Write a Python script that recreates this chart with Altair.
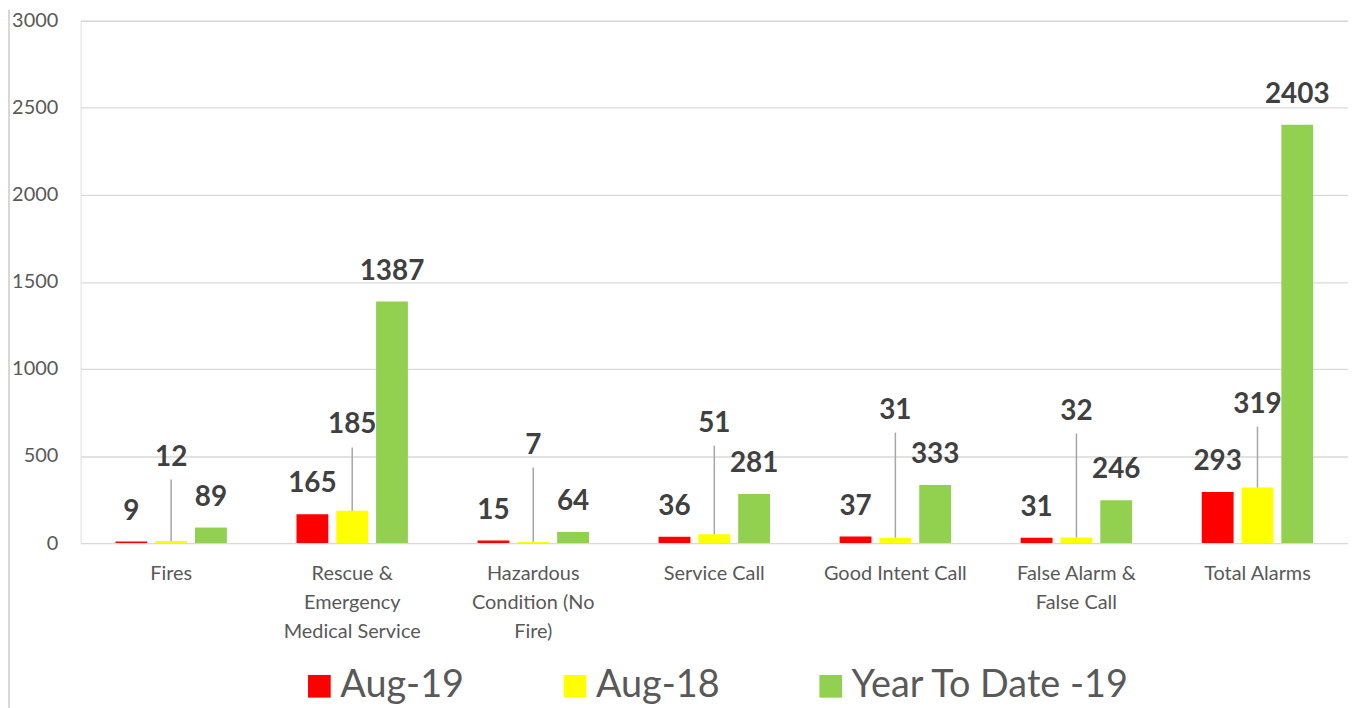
import altair as alt
import pandas as pd

categories = [
    "Fires",
    "Rescue &\nEmergency\nMedical Service",
    "Hazardous\nCondition (No\nFire)",
    "Service Call",
    "Good Intent Call",
    "False Alarm &\nFalse Call",
    "Total Alarms",
]
series = ["Aug-19", "Aug-18", "Year To Date -19"]
aug19 = [9, 165, 15, 36, 37, 31, 293]
aug18 = [12, 185, 7, 51, 31, 32, 319]
ytd19 = [89, 1387, 64, 281, 333, 246, 2403]
# manually placed label anchors (data units) for the Aug-18 series
aug18_label_at = [490, 675, 560, 685, 760, 755, 795]
colors = ["#FF0000", "#FFFF00", "#92D050"]
y_ticks = [0, 500, 1000, 1500, 2000, 2500, 3000]

rows = []
for i, c in enumerate(categories):
    for s, vals in zip(series, [aug19, aug18, ytd19]):
        rows.append({"category": c, "series": s, "value": vals[i],
                     "label_at": aug18_label_at[i] if s == "Aug-18" else None})
df = pd.DataFrame(rows)

FONT = "Lato"

x_enc = alt.X(
    "category:N", sort=categories, title=None,
    scale=alt.Scale(paddingInner=0.3846, paddingOuter=0.1923),
    axis=alt.Axis(labelAngle=0, ticks=False, domain=False, labelFont=FONT,
                  labelFontSize=20, labelColor="#595959", labelPadding=21,
                  labelLineHeight=29, labelLimit=300,
                  labelExpr="split(datum.label, '\\n')"),
)
xoff = alt.XOffset("series:N", sort=series,
                   scale=alt.Scale(paddingInner=0.2, paddingOuter=0))
y_scale = alt.Scale(domain=[0, 3000], nice=False)

base = alt.Chart(df)

bars = base.mark_bar().encode(
    x=x_enc,
    xOffset=xoff,
    y=alt.Y("value:Q", scale=y_scale, title=None,
            axis=alt.Axis(values=y_ticks, ticks=False, domain=False, format="d",
                          labelFont=FONT, labelFontSize=20, labelColor="#595959",
                          labelPadding=23, gridColor="#d9d9d9", gridWidth=1.3)),
    color=alt.Color("series:N", sort=series,
                    scale=alt.Scale(domain=series, range=colors),
                    legend=alt.Legend(orient="none", legendX=221, legendY=650,
                                      direction="horizontal", title=None,
                                      symbolType="square", symbolSize=520,
                                      symbolStrokeWidth=0, labelFont=FONT,
                                      labelFontSize=38, labelColor="#595959",
                                      labelOffset=2, columnPadding=92,
                                      labelLimit=400)),
)

labels = base.transform_filter("datum.series != 'Aug-18'").mark_text(
    dy=-30, baseline="middle", font=FONT, fontSize=28, fontWeight="bold",
    color="#404040",
).encode(x=x_enc, xOffset=xoff, y=alt.Y("value:Q", scale=y_scale),
         text="value:Q")

y_labels = base.transform_filter("datum.series == 'Aug-18'").mark_text(
    baseline="middle", font=FONT, fontSize=28, fontWeight="bold",
    color="#404040",
).encode(x=x_enc, xOffset=xoff, y=alt.Y("label_at:Q", scale=y_scale),
         text="value:Q")

leaders = base.transform_filter("datum.series == 'Aug-18'").mark_rule(
    color="#a6a6a6", strokeWidth=1.5, y2Offset=22,
).encode(x=x_enc, xOffset=xoff, y=alt.Y("value:Q", scale=y_scale),
         y2="label_at:Q")

border = base.mark_rule(color="#d9d9d9", strokeWidth=1).encode(
    x=alt.value(-72), y=alt.value(-10), y2=alt.value(690))

chart = alt.layer(border, bars, leaders, labels, y_labels).properties(
    width=1274, height=525,
    padding={"left": 0, "top": 0, "right": 0, "bottom": 0},
).configure_view(stroke=None).configure(background="white")

chart.save("out.html", embed_options={"renderer": "svg", "actions": False})
